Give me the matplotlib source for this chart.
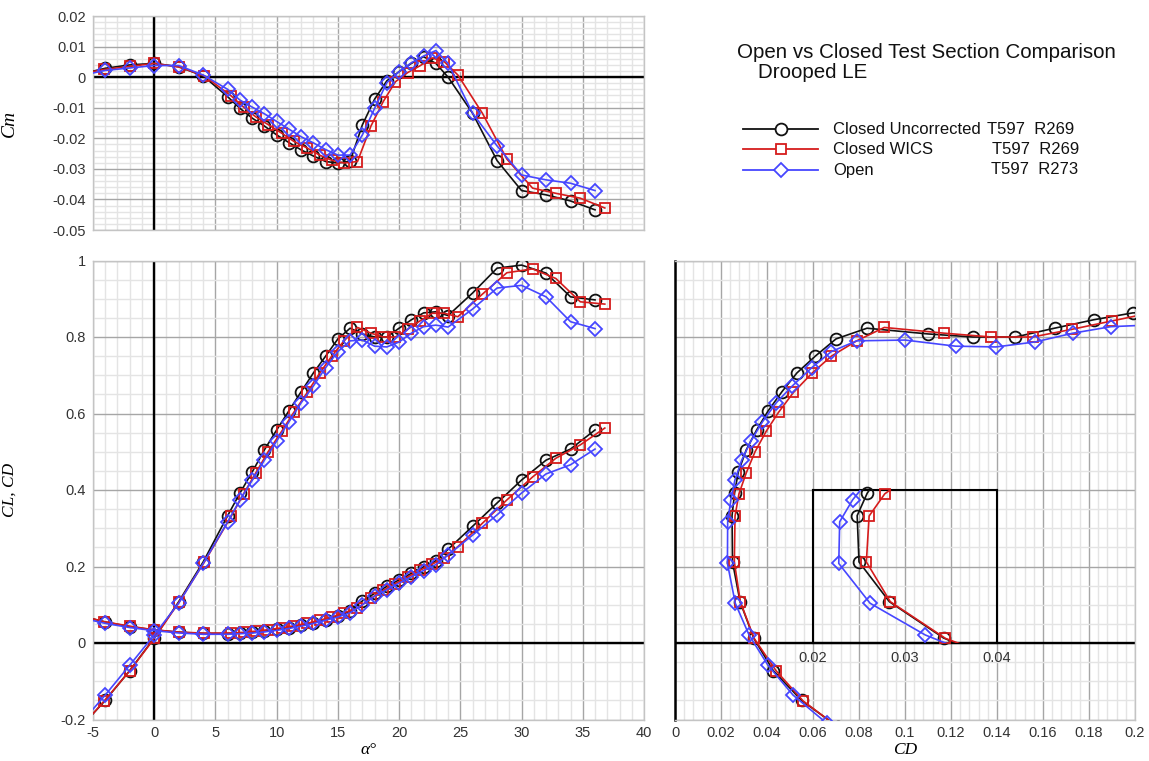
import matplotlib
matplotlib.use("Agg")
import matplotlib.pyplot as plt
import numpy as np
from matplotlib.ticker import MultipleLocator, FixedLocator, FuncFormatter
from matplotlib.lines import Line2D

plt.rcParams['font.family'] = ['Liberation Sans', 'DejaVu Sans']
plt.rcParams['axes.unicode_minus'] = False

# ---------------- data ----------------
alpha_closed = [-6, -4, -2, 0, 2, 4, 6, 7, 8, 9, 10, 11, 12, 13, 14, 15, 16, 17, 18, 19,
                20, 21, 22, 23, 24, 26, 28, 30, 32, 34, 36]
cl_closed = [-0.22, -0.15, -0.072, 0.013, 0.108, 0.212, 0.333, 0.392, 0.447, 0.505, 0.557,
             0.607, 0.657, 0.706, 0.75, 0.795, 0.823, 0.808, 0.80, 0.80, 0.823, 0.845, 0.863,
             0.866, 0.856, 0.915, 0.98, 0.988, 0.967, 0.905, 0.897]
cd_closed = [0.071, 0.055, 0.0427, 0.0342, 0.0283, 0.025, 0.0248, 0.0259, 0.0275, 0.031,
             0.0355, 0.0405, 0.0465, 0.053, 0.061, 0.070, 0.0835, 0.110, 0.1296, 0.148, 0.165,
             0.182, 0.199, 0.215, 0.245, 0.305, 0.366, 0.426, 0.478, 0.507, 0.557]
cm_closed = [0.001, 0.0029, 0.004, 0.0045, 0.0034, 0.0004, -0.0064, -0.0102, -0.0134, -0.016,
             -0.0189, -0.0214, -0.0238, -0.0258, -0.0276, -0.0281, -0.0275, -0.0156, -0.0072,
             -0.0012, 0.0018, 0.0045, 0.0067, 0.0045, 0.0, -0.0118, -0.0273, -0.0371, -0.0385,
             -0.0405, -0.0434]

alpha_wics = [-6.1, -4.1, -2.0, 0.0, 2.05, 4.1, 6.3, 7.3, 8.3, 9.3, 10.4, 11.4, 12.5, 13.5,
              14.5, 15.5, 16.6, 17.7, 18.7, 19.7, 20.7, 21.7, 22.7, 23.7, 24.8, 26.8, 28.8,
              30.9, 32.8, 34.8, 36.8]
cl_wics = [-0.225, -0.152, -0.073, 0.012, 0.108, 0.212, 0.332, 0.39, 0.445, 0.50, 0.553,
           0.603, 0.655, 0.705, 0.75, 0.79, 0.825, 0.81, 0.80, 0.80, 0.82, 0.842, 0.862, 0.862,
           0.853, 0.912, 0.968, 0.978, 0.953, 0.892, 0.886]
cd_wics = [0.072, 0.0558, 0.044, 0.0344, 0.0284, 0.0258, 0.0261, 0.0278, 0.031, 0.0348,
           0.0396, 0.045, 0.0515, 0.0595, 0.068, 0.079, 0.091, 0.117, 0.1375, 0.1555, 0.1725,
           0.19, 0.206, 0.223, 0.252, 0.313, 0.374, 0.434, 0.483, 0.518, 0.562]
cm_wics = [0.001, 0.0025, 0.0035, 0.0045, 0.0033, 0.0004, -0.0062, -0.0098, -0.013, -0.0155,
           -0.0183, -0.021, -0.0232, -0.0255, -0.0272, -0.0281, -0.0276, -0.016, -0.008,
           -0.0015, 0.0015, 0.0037, 0.0063, 0.005, 0.0007, -0.0118, -0.0268, -0.0363, -0.038,
           -0.0396, -0.0428]

alpha_open = [-6, -4, -2, 0, 2, 4, 6, 7, 8, 9, 10, 11, 12, 13, 14, 15, 16, 17, 18, 19,
              20, 21, 22, 23, 24, 26, 28, 30, 32, 34, 36]
cl_open = [-0.21, -0.136, -0.058, 0.021, 0.104, 0.208, 0.317, 0.374, 0.425, 0.478, 0.528,
           0.578, 0.628, 0.672, 0.72, 0.762, 0.79, 0.792, 0.776, 0.774, 0.787, 0.81, 0.827,
           0.831, 0.826, 0.873, 0.928, 0.935, 0.905, 0.84, 0.822]
cd_open = [0.066, 0.0513, 0.0404, 0.0322, 0.0262, 0.0228, 0.0229, 0.0243, 0.026, 0.029,
           0.033, 0.038, 0.044, 0.051, 0.0595, 0.068, 0.079, 0.100, 0.122, 0.1395, 0.1565,
           0.173, 0.1895, 0.205, 0.23, 0.282, 0.335, 0.392, 0.442, 0.466, 0.507]
cm_open = [0.0005, 0.0022, 0.003, 0.0038, 0.0038, 0.0007, -0.004, -0.0075, -0.0098, -0.012,
           -0.0145, -0.017, -0.0195, -0.0215, -0.0237, -0.0255, -0.0255, -0.0189, -0.0102,
           -0.0018, 0.0018, 0.0047, 0.0069, 0.0087, 0.0045, -0.0118, -0.0225, -0.032, -0.0336,
           -0.0347, -0.0371]

series_names = ["Closed Uncorrected", "Closed WICS", "Open"]
series_runs = ["T597  R269", "T597  R269", "T597  R273"]
title_lines = ["Open vs Closed Test Section Comparison", "Drooped LE"]

# ---------------- style ----------------
colors = ["#111111", "#d61c1c", "#4646ff"]
markers = ["o", "s", "D"]
msizes = [8.5, 7.2, 7.0]
series = [
    (alpha_closed, cl_closed, cd_closed, cm_closed),
    (alpha_wics, cl_wics, cd_wics, cm_wics),
    (alpha_open, cl_open, cd_open, cm_open),
]

W, H = 1149, 761
fig = plt.figure(figsize=(W / 100, H / 100), dpi=100)

def fr(x0, y0, x1, y1):
    return [x0 / W, 1 - y1 / H, (x1 - x0) / W, (y1 - y0) / H]

ax_cm = fig.add_axes(fr(93, 16, 644, 230))
ax_cl = fig.add_axes(fr(93, 260.5, 644, 719.5))
ax_pol = fig.add_axes(fr(675, 260.5, 1135, 719.5))

MAJ = "#a6a6a6"
MIN = "#e4e4e4"
TICKC = "#333333"
label_font = dict(family=['Liberation Serif', 'DejaVu Serif'], style='italic', size=12.5)

def fmt(v, pos):
    if abs(v) < 1e-10:
        return "0"
    return "%g" % round(v, 6)

def style_axes(ax):
    ax.set_axisbelow(True)
    ax.grid(True, which='major', color=MAJ, lw=1.0)
    ax.grid(True, which='minor', color=MIN, lw=1.0)
    for sp in ax.spines.values():
        sp.set_color("#c4c4c4")
        sp.set_linewidth(1.0)
    ax.tick_params(which='both', length=0, labelsize=10.5, colors=TICKC, pad=5)
    ax.xaxis.set_major_formatter(FuncFormatter(fmt))
    ax.yaxis.set_major_formatter(FuncFormatter(fmt))

# --- Cm panel
style_axes(ax_cm)
ax_cm.set_xlim(-5, 40)
ax_cm.set_ylim(-0.05, 0.02)
ax_cm.xaxis.set_major_locator(MultipleLocator(5))
ax_cm.xaxis.set_minor_locator(MultipleLocator(1))
ax_cm.yaxis.set_major_locator(MultipleLocator(0.01))
ax_cm.yaxis.set_minor_locator(MultipleLocator(0.002))
ax_cm.tick_params(axis='x', labelbottom=False)
ax_cm.axhline(0, color='black', lw=1.7, zorder=1.5)
ax_cm.axvline(0, color='black', lw=1.7, zorder=1.5)
ax_cm.set_ylabel("Cm", family=['Liberation Serif', 'DejaVu Serif'], style='italic', size=14)
ax_cm.yaxis.set_label_coords(-0.136, 0.5)

# --- CL/CD vs alpha
style_axes(ax_cl)
ax_cl.set_xlim(-5, 40)
ax_cl.set_ylim(-0.2, 1.0)
ax_cl.xaxis.set_major_locator(MultipleLocator(5))
ax_cl.xaxis.set_minor_locator(MultipleLocator(1))
ax_cl.yaxis.set_major_locator(MultipleLocator(0.2))
ax_cl.yaxis.set_minor_locator(MultipleLocator(0.05))
ax_cl.axhline(0, color='black', lw=1.7, zorder=1.5)
ax_cl.axvline(0, color='black', lw=1.7, zorder=1.5)
ax_cl.set_ylabel("CL, CD", **label_font)
ax_cl.yaxis.set_label_coords(-0.136, 0.5)
ax_cl.set_xlabel("\u03b1\u00b0", labelpad=1, **label_font)

# --- drag polar
style_axes(ax_pol)
ax_pol.set_xlim(0, 0.2)
ax_pol.set_ylim(-0.2, 1.0)
ax_pol.xaxis.set_major_locator(MultipleLocator(0.02))
ax_pol.xaxis.set_minor_locator(MultipleLocator(0.004))
ax_pol.yaxis.set_major_locator(MultipleLocator(0.2))
ax_pol.yaxis.set_minor_locator(MultipleLocator(0.05))
ax_pol.tick_params(axis='y', labelleft=False)
ax_pol.spines['left'].set_color('black')
ax_pol.spines['left'].set_linewidth(1.8)
ax_pol.axhline(0, color='black', lw=1.7, zorder=1.5)
ax_pol.set_xlabel("CD", labelpad=1, **label_font)

# inset zoom box
axin = ax_pol.inset_axes([0.06, 0.0, 0.08, 0.4], transform=ax_pol.transData)
axin.set_xlim(0.02, 0.04)
axin.set_ylim(0.0, 0.4)
axin.patch.set_alpha(0)
for sp in axin.spines.values():
    sp.set_color('black')
    sp.set_linewidth(1.5)
axin.set_yticks([])
axin.xaxis.set_major_locator(FixedLocator([0.02, 0.03, 0.04]))
axin.xaxis.set_major_formatter(FuncFormatter(fmt))
axin.tick_params(axis='x', length=0, labelsize=10.5, colors=TICKC, pad=6)

for (a, cl, cd, cm), c, m, ms in zip(series, colors, markers, msizes):
    kw = dict(color=c, lw=1.2, marker=m, ms=ms, mfc='none', mec=c, mew=1.3, zorder=3)
    ax_cm.plot(a, cm, **kw)
    ax_cl.plot(a, cl, **kw)
    ax_cl.plot(a, cd, **kw)
    ax_pol.plot(cd, cl, **kw)
    axin.plot(cd, cl, color=c, lw=1.2, zorder=3)
    cla = np.array(cl)
    cda = np.array(cd)
    sel = (cla >= 0) & (cla <= 0.4)
    axin.plot(cda[sel], cla[sel], ls='none', marker=m, ms=ms, mfc='none', mec=c,
              mew=1.3, zorder=3, clip_on=False)

# ---------------- title & legend ----------------
fig.text(737 / W, 1 - 53 / H, title_lines[0], fontsize=14.8, color='#111111',
         ha='left', va='center')
fig.text(758 / W, 1 - 73 / H, title_lines[1], fontsize=14.8, color='#111111',
         ha='left', va='center')

rows_y = [129, 149, 170]
run_x = [987, 992, 991]
for name, run, c, m, ms, y, rx in zip(series_names, series_runs, colors, markers, msizes,
                                      rows_y, run_x):
    yf = 1 - y / H
    fig.add_artist(Line2D([743 / W, 818 / W], [yf, yf], color=c, lw=1.3,
                          transform=fig.transFigure))
    fig.add_artist(Line2D([780.5 / W], [yf], color=c, marker=m, ms=ms, mfc='white', mec=c,
                          mew=1.3, transform=fig.transFigure))
    fig.text(833 / W, yf, name, fontsize=12, color='#111111', ha='left', va='center')
    fig.text(rx / W, yf, run, fontsize=12, color='#111111', ha='left', va='center')

fig.savefig("out.png", dpi=100)
